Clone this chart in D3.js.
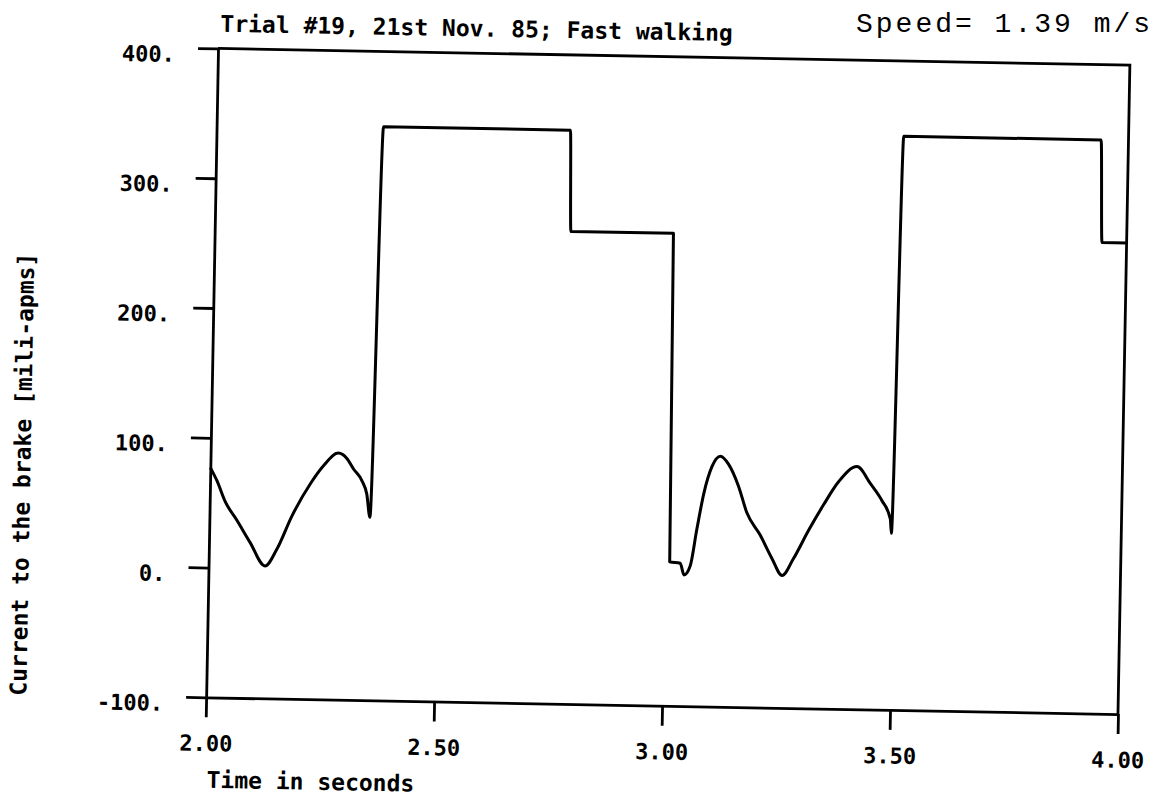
<!DOCTYPE html>
<html>
<head>
<meta charset="utf-8">
<script src="https://cdn.jsdelivr.net/npm/d3@7"></script>
<style>
  html, body { margin: 0; padding: 0; background: #fff; }
  svg { display: block; }
  .plotter { font-family: "DejaVu Sans Mono", monospace; font-weight: bold; fill: #000; }
  .typed { font-family: "Liberation Mono", "Courier New", monospace; fill: #000; }
</style>
</head>
<body>
<svg id="chart" width="1159" height="802"></svg>
<script>
// Brake current trace, trial #19
const times = [
  2.000, 2.015, 2.034, 2.060, 2.090, 2.124, 2.149, 2.181, 2.220, 2.248,
  2.280, 2.299, 2.314, 2.333, 2.344, 2.352, 2.366, 2.776, 2.781, 3.006,
  3.011, 3.034, 3.043, 3.056, 3.069, 3.083, 3.100, 3.118, 3.136, 3.159,
  3.178, 3.208, 3.235, 3.258, 3.282, 3.314, 3.346, 3.378, 3.418, 3.448,
  3.474, 3.493, 3.496, 3.507, 3.940, 3.946, 4.000
];
const current = [
  77, 67, 51, 37, 20, 2, 15, 41, 66, 80,
  90, 86, 78, 69, 59, 41, 342, 342, 264, 264,
  11, 10, 1, 8, 36, 64, 85, 93, 87, 70,
  50, 33, 15, 2, 15, 37, 57, 75, 87, 74,
  61, 47, 36, 342, 342, 263, 263
];

const xTicks = [2.0, 2.5, 3.0, 3.5, 4.0];
const xTickLabels = ["2.00", "2.50", "3.00", "3.50", "4.00"];
const yTicks = [-100, 0, 100, 200, 300, 400];
const yTickLabels = ["-100.", "0.", "100.", "200.", "300.", "400."];

const titleText = "Trial #19, 21st Nov. 85; Fast walking";
const speedText = "Speed= 1.39 m/s";
const xTitle = "Time in seconds";
const yTitle = "Current to the brake [mili-apms]";

const svg = d3.select("#chart");

const plotLeft = 212, plotRight = 1124, plotTop = 56.75, plotBottom = 705.75;
const x = d3.scaleLinear().domain([2, 4]).range([plotLeft, plotRight]);
const y = d3.scaleLinear().domain([-100, 400]).range([plotBottom, plotTop]);

// the plotted sheet sits slightly skewed on the page
const sheet = svg.append("g")
  .attr("transform", `rotate(1.05, ${(plotLeft + plotRight) / 2}, ${(plotTop + plotBottom) / 2})`);

const stroke = 2.8;

// y axis
const yAxis = sheet.append("g")
  .attr("transform", `translate(${plotLeft},0)`)
  .call(d3.axisLeft(y).tickValues(yTicks).tickSize(20).tickSizeOuter(0)
    .tickFormat((d, i) => yTickLabels[i]));

// x axis
const xAxis = sheet.append("g")
  .attr("transform", `translate(0,${plotBottom})`)
  .call(d3.axisBottom(x).tickValues(xTicks).tickSize(20).tickSizeOuter(0)
    .tickFormat((d, i) => xTickLabels[i]));

[yAxis, xAxis].forEach(g => {
  g.attr("font-family", null).attr("font-size", null);
  g.selectAll("path, line").attr("stroke", "#000").attr("stroke-width", stroke);
});

yAxis.selectAll("text")
  .attr("class", "plotter")
  .attr("font-size", 22)
  .attr("x", -43)
  .attr("y", 6)
  .attr("dy", "0.35em");

xAxis.selectAll("text")
  .attr("class", "plotter")
  .attr("font-size", 22)
  .attr("y", 46)
  .attr("dy", "0.35em");

// frame: top and right edges
sheet.append("path")
  .attr("d", `M${plotLeft},${y(400)}H${x(4)}V${y(-100)}`)
  .attr("fill", "none")
  .attr("stroke", "#000")
  .attr("stroke-width", stroke)
  .attr("stroke-linejoin", "miter");

// trace
const line = d3.line()
  .x((d, i) => x(times[i]))
  .y(d => y(d))
  .curve(d3.curveMonotoneX);
sheet.append("path")
  .datum(current)
  .attr("d", line)
  .attr("fill", "none")
  .attr("stroke", "#000")
  .attr("stroke-width", 3)
  .attr("stroke-linejoin", "round");

// titles
sheet.append("text")
  .attr("class", "plotter")
  .attr("x", 214)
  .attr("y", 40)
  .attr("font-size", 23)
  .text(titleText);

sheet.append("text")
  .attr("class", "plotter")
  .attr("x", 214)
  .attr("y", 788)
  .attr("dy", "0.35em")
  .attr("font-size", 23)
  .text(xTitle);

sheet.append("text")
  .attr("class", "plotter")
  .attr("transform", "translate(24,486) rotate(-90)")
  .attr("text-anchor", "middle")
  .attr("dy", "0.35em")
  .attr("font-size", 23)
  .text(yTitle);

// typed annotation, level on the page
svg.append("text")
  .attr("class", "typed")
  .attr("x", 856)
  .attr("y", 32)
  .attr("font-size", 28)
  .attr("letter-spacing", 3)
  .text(speedText);
</script>
</body>
</html>
